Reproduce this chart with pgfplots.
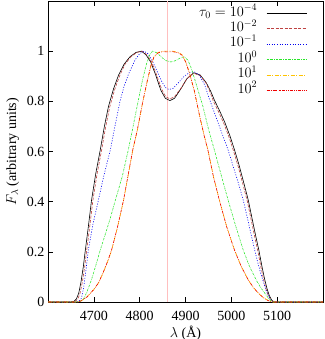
\documentclass[border=0pt]{standalone}
\usepackage{fontspec}
\setmainfont{Liberation Serif}
\usepackage{pgfplots}
\pgfplotsset{compat=1.18}

\definecolor{ctwo}{RGB}{190,65,65}
\definecolor{cthree}{RGB}{0,0,240}
\definecolor{cfour}{RGB}{40,230,40}
\definecolor{cfive}{RGB}{255,195,0}
\definecolor{csix}{RGB}{240,0,0}

\begin{document}
\begin{tikzpicture}[font=\fontsize{14}{16}\selectfont]
\begin{axis}[
scale only axis,
width=275pt,
height=301pt,
xmin=4600,xmax=5200,
ymin=0,ymax=1.2,
xtick={4700,4800,...,5100},
ytick={0,0.2,...,1},
yticklabels={0,0.2,0.4,0.6,0.8,1},
/pgf/number format/1000 sep={},
/pgf/number format/assume math mode=true,
tick align=inside,
major tick length=5pt,
minor tick num=0,
xticklabel style={yshift=-6pt},
xlabel={$\lambda$ (\AA)},
ylabel={$F_\lambda$ (arbitrary units)},
xlabel style={yshift=2pt},
ylabel style={yshift=1pt},
axis line style={line width=0.6pt},
every tick/.style={black,line width=0.5pt},
legend plot pos=right,
legend cell align=right,
legend style={draw=none,fill=none,at={(1,1)},anchor=north east,
  inner sep=0pt,xshift=-16pt,yshift=-5pt,column sep=9pt,row sep=1pt,
  nodes={inner sep=0pt,text height=10pt,text depth=4.4pt}},
every axis plot/.append style={line width=0.6pt},
every axis plot post/.append style={legend image code/.code={\draw[#1] (0pt,0pt) -- (40pt,0pt);}},
]

\draw[red!25,line width=0.5pt] (axis cs:4861,0) -- (axis cs:4861,1.2);

% tau0 = 1e-4
\addplot[black] coordinates {
(4600,0) (4650,0) (4657,0.003) (4662,0.012) (4667,0.035) (4672,0.08)
(4677,0.14) (4681,0.2) (4688,0.3) (4695,0.406) (4704,0.51) (4714,0.606)
(4723,0.70) (4732,0.78) (4743,0.85) (4754,0.905) (4766,0.948) (4779,0.978)
(4792,0.995) (4804,1.0) (4814,0.985) (4824,0.957) (4835,0.905) (4846,0.845)
(4856,0.812) (4866,0.803) (4876,0.812) (4890,0.85) (4903,0.89) (4918,0.914)
(4932,0.905) (4945,0.875) (4955,0.84) (4963,0.805) (4975,0.76) (4986,0.715)
(4997,0.662) (5007,0.606) (5017,0.545) (5027,0.476) (5037,0.406) (5045,0.335)
(5053,0.265) (5060,0.207) (5067,0.14) (5073,0.088) (5078,0.052) (5083,0.025)
(5088,0.008) (5093,0) (5200,0)
};
\addlegendentry{$\tau_0=10^{-4}$}

% 1e-2
\addplot[ctwo,dash pattern=on 3pt off 1.5pt] coordinates {
(4600,0) (4653,0) (4660,0.003) (4665,0.012) (4670,0.035) (4675,0.08)
(4680,0.14) (4684,0.2) (4691,0.3) (4698,0.406) (4707,0.51) (4717,0.606)
(4726,0.70) (4735,0.78) (4746,0.85) (4757,0.905) (4768,0.948) (4781,0.978)
(4794,0.995) (4806,1.0) (4816,0.985) (4826,0.957) (4837,0.905) (4848,0.848)
(4857,0.818) (4866,0.81) (4876,0.818) (4890,0.852) (4903,0.89) (4918,0.912)
(4932,0.902) (4945,0.872) (4954,0.835) (4961,0.80) (4973,0.755) (4984,0.71)
(4995,0.657) (5005,0.601) (5015,0.54) (5025,0.471) (5035,0.401) (5043,0.33)
(5051,0.26) (5058,0.202) (5065,0.135) (5071,0.085) (5076,0.05) (5081,0.024)
(5087,0.007) (5092,0) (5200,0)
};
\addlegendentry{$10^{-2}$}

% 1e-1
\addplot[cthree,dash pattern=on 1pt off 1.6pt] coordinates {
(4600,0) (4660,0) (4667,0.003) (4673,0.015) (4678,0.06) (4683,0.13)
(4688,0.207) (4698,0.31) (4710,0.406) (4722,0.505) (4736,0.606) (4746,0.70)
(4757,0.80) (4766,0.86) (4776,0.91) (4790,0.965) (4800,0.99) (4809,1.0)
(4818,0.99) (4828,0.96) (4838,0.92) (4848,0.88) (4856,0.855) (4864,0.847)
(4873,0.852) (4885,0.875) (4897,0.9) (4909,0.915) (4919,0.918) (4930,0.905)
(4942,0.865) (4952,0.81) (4962,0.76) (4972,0.71) (4983,0.655) (4993,0.606)
(5005,0.535) (5016,0.47) (5026,0.406) (5035,0.335) (5043,0.27) (5051,0.207)
(5058,0.155) (5064,0.115) (5070,0.08) (5076,0.045) (5082,0.02) (5087,0.006)
(5092,0) (5200,0)
};
\addlegendentry{$10^{-1}$}

% 1e0
\addplot[cfour,dash pattern=on 2pt off 1pt on 0.5pt off 1pt] coordinates {
(4600,0) (4660,0) (4670,0.003) (4677,0.01) (4685,0.04) (4695,0.09)
(4705,0.15) (4714,0.207) (4725,0.27) (4736,0.335) (4747,0.406) (4762,0.50)
(4775,0.605) (4784,0.685) (4795,0.785) (4806,0.884) (4815,0.95) (4822,0.985)
(4828,1.0) (4838,0.993) (4848,0.975) (4858,0.962) (4868,0.957) (4878,0.962)
(4888,0.972) (4897,0.977) (4905,0.965) (4912,0.935) (4919,0.895) (4928,0.84)
(4938,0.78) (4950,0.69) (4963,0.606) (4978,0.505) (4993,0.406) (5010,0.30)
(5026,0.207) (5040,0.14) (5055,0.085) (5065,0.055) (5073,0.035) (5081,0.015)
(5088,0.003) (5092,0) (5200,0)
};
\addlegendentry{$10^{0}$}

% 1e1
\addplot[cfive,dash pattern=on 4pt off 1.5pt on 1pt off 1.5pt] coordinates {
(4600,0) (4665,0) (4673,0.005) (4685,0.02) (4700,0.05) (4710,0.075)
(4720,0.115) (4730,0.16) (4739,0.207) (4752,0.3) (4765,0.406) (4773,0.486)
(4785,0.606) (4795,0.685) (4806,0.79) (4817,0.884) (4825,0.945) (4831,0.977)
(4840,0.995) (4850,1.0) (4861,1.0) (4872,1.0) (4885,0.995) (4893,0.985)
(4900,0.96) (4908,0.918) (4919,0.845) (4930,0.75) (4940,0.67) (4949,0.606)
(4961,0.50) (4974,0.406) (4990,0.30) (5007,0.207) (5022,0.14) (5037,0.088)
(5048,0.058) (5059,0.035) (5070,0.017) (5080,0.006) (5088,0) (5200,0)
};
\addlegendentry{$10^{1}$}

% 1e2
\addplot[csix,dash pattern=on 3pt off 1.2pt on 0.6pt off 1.2pt on 0.6pt off 1.2pt] coordinates {
(4600,0) (4665,0) (4673,0.005) (4685,0.02) (4700,0.05) (4710,0.076)
(4720,0.116) (4730,0.162) (4739,0.209) (4752,0.302) (4765,0.408) (4773,0.488)
(4785,0.607) (4795,0.687) (4806,0.792) (4817,0.885) (4825,0.945) (4831,0.976)
(4840,0.993) (4850,0.998) (4861,0.997) (4872,0.998) (4885,0.993) (4893,0.983)
(4900,0.958) (4908,0.916) (4919,0.843) (4930,0.748) (4940,0.668) (4949,0.604)
(4961,0.499) (4974,0.405) (4990,0.299) (5007,0.206) (5022,0.14) (5037,0.088)
(5048,0.058) (5059,0.035) (5070,0.017) (5080,0.006) (5088,0) (5200,0)
};
\addlegendentry{$10^{2}$}

\end{axis}
\pgfresetboundingbox
\path ([shift={(-48pt,-37pt)}]current axis.south west) rectangle ([shift={(1pt,1pt)}]current axis.north east);
\end{tikzpicture}
\end{document}
